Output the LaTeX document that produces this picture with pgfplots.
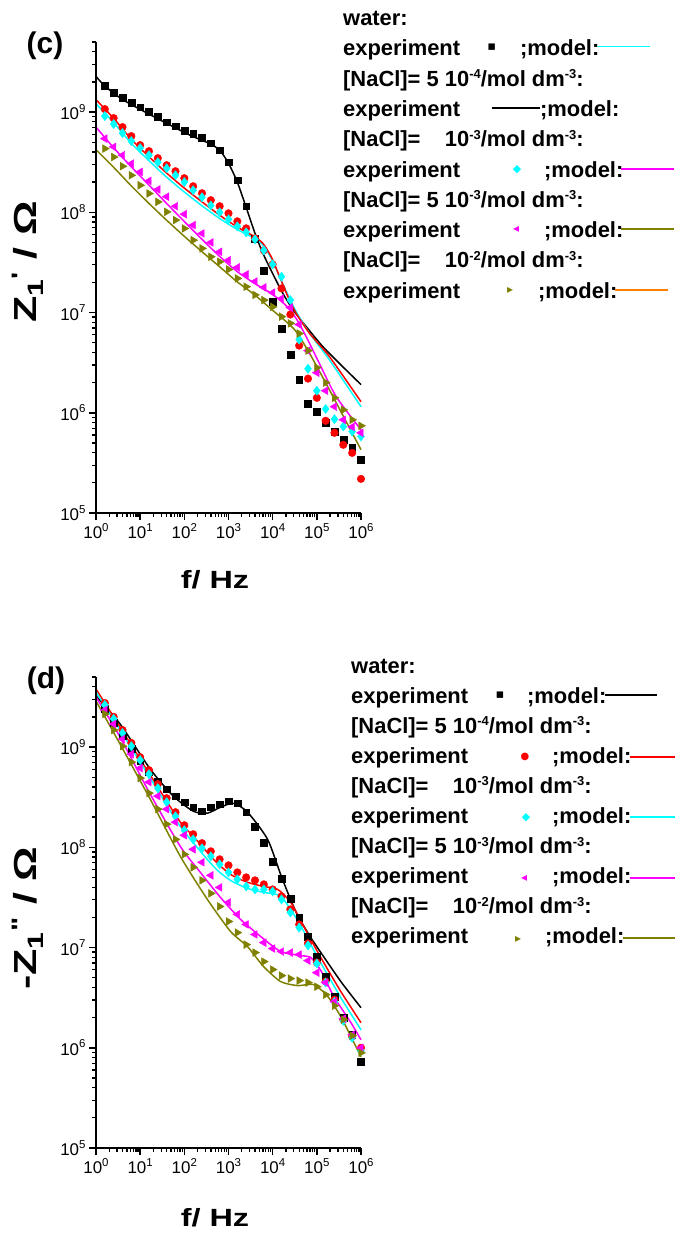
\documentclass[border=0pt]{standalone}
\usepackage{graphicx}
\usepackage{pgfplots}
\pgfplotsset{compat=1.18}
\usepackage{pgfplotstable}
\usepackage{fontspec}
\setmainfont{Liberation Sans}
\newfontfamily\symfont{DejaVu Sans}
\definecolor{ocyan}{RGB}{0,255,255}
\definecolor{omag}{RGB}{255,0,255}
\definecolor{oolive}{RGB}{128,128,0}
\definecolor{ored}{RGB}{255,0,0}
\definecolor{oorange}{RGB}{255,128,0}
\newcommand{\lf}{\fontsize{22}{26}\selectfont\bfseries}
\newcommand{\sps}[1]{\raisebox{7.5bp}{\fontsize{13}{13}\selectfont #1}}
\newcommand{\tlab}[1]{\fontsize{17}{20}\selectfont 10\raisebox{7.5bp}{\fontsize{11.5}{11.5}\selectfont #1}}

% experiment, panel (c): Z1'
\pgfplotstableread{
f cw cr cc cm co
1.585 1.82e9 1.07e9 9.12e8 5.43e8 4.32e8
2.512 1.55e9 8.71e8 7.59e8 4.49e8 3.56e8
3.981 1.38e9 7.08e8 6.17e8 3.71e8 2.88e8
6.310 1.23e9 5.75e8 5.13e8 3.06e8 2.34e8
10 1.12e9 4.68e8 4.37e8 2.53e8 1.86e8
15.85 1.00e9 4.07e8 3.72e8 2.06e8 1.54e8
25.12 8.91e8 3.47e8 3.16e8 1.69e8 1.27e8
39.81 7.94e8 2.95e8 2.75e8 1.43e8 1.01e8
63.10 7.24e8 2.57e8 2.34e8 1.15e8 8.36e7
100 6.46e8 2.19e8 2.00e8 9.57e7 6.90e7
158.5 6.03e8 1.82e8 1.66e8 7.45e7 5.27e7
251.2 5.50e8 1.55e8 1.41e8 6.15e7 4.36e7
398.1 4.90e8 1.32e8 1.17e8 5.00e7 3.60e7
631.0 4.17e8 1.15e8 1.00e8 4.04e7 3.21e7
1000 3.16e8 9.77e7 8.51e7 3.33e7 2.69e7
1585 2.09e8 8.13e7 7.24e7 2.82e7 2.19e7
2512 1.15e8 6.92e7 6.31e7 2.40e7 1.81e7
3981 5.50e7 5.50e7 5.37e7 2.04e7 1.50e7
6310 2.63e7 4.17e7 4.17e7 1.78e7 1.33e7
1e4 1.29e7 3.02e7 3.02e7 1.58e7 1.14e7
15850 6.92e6 1.74e7 2.28e7 1.38e7 9.10e6
25120 3.80e6 9.55e6 1.33e7 1.12e7 7.80e6
39810 2.14e6 4.68e6 5.37e6 7.59e6 6.17e6
63100 1.23e6 2.19e6 2.75e6 4.17e6 4.17e6
1e5 1.02e6 1.41e6 1.66e6 2.51e6 2.82e6
158500 7.94e5 8.32e5 1.09e6 1.66e6 2.00e6
251200 6.46e5 6.31e5 8.63e5 1.15e6 1.41e6
398100 5.37e5 4.79e5 7.30e5 8.51e5 1.07e6
631000 4.47e5 3.98e5 6.50e5 7.24e5 8.51e5
1e6 3.39e5 2.19e5 5.81e5 6.31e5 7.41e5
}\expC

% experiment, panel (d): -Z1''
\pgfplotstableread{
f dw dr dc dm do
1.585 2.40e9 2.75e9 2.63e9 2.34e9 2.14e9
2.512 1.74e9 2.00e9 1.91e9 1.70e9 1.48e9
3.981 1.29e9 1.48e9 1.38e9 1.20e9 1.02e9
6.310 9.55e8 1.10e9 1.02e9 8.51e8 7.08e8
10 7.24e8 7.94e8 7.41e8 6.17e8 4.90e8
15.85 5.62e8 5.89e8 5.37e8 4.47e8 3.47e8
25.12 4.57e8 4.27e8 3.89e8 3.24e8 2.40e8
39.81 3.80e8 3.09e8 2.82e8 2.40e8 1.70e8
63.10 3.24e8 2.24e8 2.04e8 1.78e8 1.20e8
100 2.82e8 1.66e8 1.48e8 1.32e8 8.51e7
158.5 2.51e8 1.35e8 1.20e8 9.55e7 6.31e7
251.2 2.29e8 1.10e8 9.77e7 7.08e7 4.68e7
398.1 2.51e8 9.12e7 8.13e7 5.25e7 3.47e7
631.0 2.69e8 7.59e7 6.76e7 3.98e7 2.57e7
1000 2.88e8 6.61e7 5.62e7 2.82e7 1.82e7
1585 2.75e8 5.62e7 4.79e7 2.14e7 1.41e7
2512 2.24e8 5.01e7 4.07e7 1.70e7 1.07e7
3981 1.62e8 4.68e7 3.80e7 1.35e7 8.91e6
6310 1.12e8 4.27e7 3.80e7 1.12e7 7.24e6
1e4 7.24e7 3.80e7 3.63e7 9.77e6 6.03e6
15850 4.90e7 3.24e7 3.02e7 9.12e6 5.25e6
25120 3.09e7 2.40e7 2.24e7 8.91e6 4.90e6
39810 2.00e7 1.70e7 1.58e7 8.51e6 4.68e6
63100 1.29e7 1.10e7 1.05e7 7.41e6 4.47e6
1e5 8.13e6 7.08e6 6.92e6 5.62e6 4.07e6
158500 5.13e6 4.57e6 4.47e6 4.47e6 3.39e6
251200 3.24e6 3.02e6 2.88e6 2.88e6 2.63e6
398100 2.00e6 1.91e6 1.86e6 1.95e6 1.91e6
631000 1.35e6 1.29e6 1.26e6 1.35e6 1.32e6
1e6 7.24e5 1.00e6 9.33e5 1.00e6 8.91e5
}\expD

\pgfplotsset{
  myaxis/.style={
    scale only axis, width=265bp, height=471bp,
    xmin=1, xmax=1e6, ymin=1e5, ymax=5e9,
    log basis x=10, log basis y=10,
    axis line style={draw=none},
    xtick pos=bottom, ytick pos=left,
    tick align=outside, major tick length=7bp, minor tick length=4bp,
    xtick={1,10,100,1000,1e4,1e5,1e6},
    ytick={1e5,1e6,1e7,1e8,1e9},
    minor xtick={2,3,4,5,6,7,8,9,20,30,40,50,60,70,80,90,200,300,400,500,600,700,800,900,2000,3000,4000,5000,6000,7000,8000,9000,2e4,3e4,4e4,5e4,6e4,7e4,8e4,9e4,2e5,3e5,4e5,5e5,6e5,7e5,8e5,9e5},
    minor ytick={2e5,3e5,4e5,5e5,6e5,7e5,8e5,9e5,2e6,3e6,4e6,5e6,6e6,7e6,8e6,9e6,2e7,3e7,4e7,5e7,6e7,7e7,8e7,9e7,2e8,3e8,4e8,5e8,6e8,7e8,8e8,9e8,2e9,3e9,4e9,5e9},
    major tick style={draw=black, line width=1.5bp},
    minor tick style={draw=black, line width=1.3bp},
    xticklabel={\tlab{\pgfmathprintnumber[fixed,precision=0,assume math mode=true]{\tick}}},
    yticklabel={\tlab{\pgfmathprintnumber[fixed,precision=0,assume math mode=true]{\tick}}},
    clip=false,
    after end axis/.code={
      \draw[black, line width=1.5bp] (rel axis cs:0,1) -- (rel axis cs:0,0) -- (rel axis cs:1,0);
    },
  },
}
\tikzset{
  mline/.style={line width=1.5bp, smooth, tension=0.4, mark=none},
  msq/.style={only marks, mark=square*, mark size=3.4bp, black},
  mci/.style={only marks, mark=*, mark size=3.8bp, ored},
  mdi/.style={only marks, mark=diamond*, mark size=4.6bp, ocyan},
  mtl/.style={only marks, mark=triangle*, mark size=4.5bp, omag, mark options={rotate=90}},
  mtr/.style={only marks, mark=triangle*, mark size=4.5bp, oolive, mark options={rotate=-90}},
}

\begin{document}
\begin{tikzpicture}
\useasboundingbox (0bp,0bp) rectangle (675bp,-1233bp);

% ---------------- panel (c) ----------------
\begin{axis}[xmode=log, ymode=log, myaxis, at={(96bp,-513bp)}, anchor=south west,
  xlabel={\scalebox{1.3}[1]{\fontsize{25}{30}\selectfont\bfseries f/ Hz}},
  xlabel style={at={(axis description cs:0.449,-0.142)}, anchor=center},
  ylabel={\scalebox{1.35}[1]{\fontsize{32}{36}\selectfont\bfseries Z\textsubscript{1}\textsuperscript{\textquotesingle} / Ω}},
  ylabel style={at={(axis description cs:-0.257,0.533)}, anchor=center},
]
\addplot[mline, black] coordinates {(1,2.27e9) (1.585,1.82e9) (4.14,1.32e9) (23.4,8.71e8) (133,5.89e8) (376,4.84e8) (631,4.17e8) (1000,3.09e8) (1585,2.00e8) (2512,1.12e8) (3981,6.17e7) (6026,3.89e7) (1e4,2.45e7) (17060,1.55e7) (28710,1.07e7) (57410,7.24e6) (136800,4.57e6) (386400,2.88e6) (1e6,1.91e6)};
\addplot[mline, ocyan] coordinates {(1,1.21e9) (2.55,7.78e8) (6.40,4.84e8) (16.0,3.26e8) (39.4,2.25e8) (98.9,1.60e8) (252,1.16e8) (632,8.67e7) (1560,6.75e7) (3908,5.48e7) (6026,4.71e7) (9290,3.47e7) (14350,2.28e7) (22130,1.50e7) (34120,1.02e7) (68230,6.21e6) (193200,3.37e6) (1e6,1.15e6)};
\addplot[mline, ored] coordinates {(1,1.33e9) (2.55,8.59e8) (6.40,5.31e8) (16.0,3.57e8) (39.4,2.47e8) (98.9,1.75e8) (252,1.27e8) (632,9.35e7) (1560,7.16e7) (3908,5.70e7) (6026,4.89e7) (9290,3.60e7) (14350,2.28e7) (22130,1.44e7) (34120,9.82e6) (68230,6.21e6) (193200,3.63e6) (1e6,1.29e6)};
\addplot[mline, omag] coordinates {(1,7.08e8) (2.55,4.37e8) (6.40,2.82e8) (16.0,1.86e8) (39.4,1.23e8) (98.9,8.13e7) (252,5.37e7) (632,3.63e7) (1560,2.57e7) (3908,1.95e7) (9290,1.55e7) (20280,1.17e7) (34120,8.71e6) (57410,5.75e6) (114800,3.09e6) (273500,1.45e6) (1e6,6.76e5)};
\addplot[mline, oolive] coordinates {(1,4.22e8) (2.55,2.79e8) (6.40,1.82e8) (16.0,1.22e8) (39.4,8.36e7) (98.9,5.78e7) (252,4.04e7) (632,2.86e7) (1560,2.03e7) (3908,1.50e7) (9795,1.06e7) (20280,8.11e6) (34120,6.44e6) (68230,3.93e6) (193200,1.69e6) (1e6,4.28e5)};
\addplot[msq] table[x=f, y=cw] {\expC};
\addplot[mci] table[x=f, y=cr] {\expC};
\addplot[mdi] table[x=f, y=cc] {\expC};
\addplot[mtl] table[x=f, y=cm] {\expC};
\addplot[mtr] table[x=f, y=co] {\expC};
\end{axis}

% ---------------- panel (d) ----------------
\begin{axis}[xmode=log, ymode=log, myaxis, at={(96bp,-1148bp)}, anchor=south west,
  xlabel={\scalebox{1.3}[1]{\fontsize{25}{30}\selectfont\bfseries f/ Hz}},
  xlabel style={at={(axis description cs:0.449,-0.149)}, anchor=center},
  ylabel={\scalebox{1.35}[1]{\fontsize{32}{36}\selectfont\bfseries -Z\textsubscript{1}\textsuperscript{\textquotedbl} / Ω}},
  ylabel style={at={(axis description cs:-0.257,0.488)}, anchor=center},
]
\addplot[mline, black] coordinates {(1,3.24e9) (3.51,1.70e9) (16.9,6.03e8) (56.2,3.24e8) (160,2.29e8) (333,2.19e8) (658,2.51e8) (1300,2.75e8) (2704,2.24e8) (7691,1.20e8) (16030,5.01e7) (33340,2.29e7) (65770,1.35e7) (123300,8.91e6) (350800,4.57e6) (1e6,2.51e6)};
\addplot[mline, ored] coordinates {(1,3.80e9) (3.51,1.58e9) (16.9,5.25e8) (81.1,1.78e8) (160,1.29e8) (456,7.59e7) (1109,5.37e7) (2704,4.47e7) (6237,4.07e7) (13000,3.80e7) (25640,2.82e7) (50700,1.62e7) (123300,7.94e6) (350800,3.63e6) (1e6,1.78e6)};
\addplot[mline, ocyan] coordinates {(1,3.55e9) (3.51,1.48e9) (16.9,4.90e8) (81.1,1.62e8) (456,6.46e7) (1109,4.68e7) (2704,3.89e7) (6237,3.55e7) (15210,3.24e7) (36980,1.86e7) (105400,7.94e6) (350800,3.16e6) (1e6,1.51e6)};
\addplot[mline, omag] coordinates {(1,3.16e9) (3.51,1.26e9) (16.9,3.39e8) (81.1,1.02e8) (231,5.62e7) (658,3.16e7) (1875,1.91e7) (5333,1.29e7) (15210,9.12e6) (43250,8.32e6) (73110,7.94e6) (123300,5.89e6) (243200,3.24e6) (592900,1.78e6) (1e6,1.20e6)};
\addplot[mline, oolive] coordinates {(1,2.88e9) (3.51,1.07e9) (16.9,3.02e8) (81.1,8.13e7) (333,3.02e7) (1109,1.45e7) (2704,1.02e7) (6237,6.46e6) (15210,4.57e6) (36980,4.17e6) (85510,4.27e6) (177800,3.24e6) (350800,2.04e6) (592900,1.29e6) (1e6,8.13e5)};
\addplot[msq] table[x=f, y=dw] {\expD};
\addplot[mci] table[x=f, y=dr] {\expD};
\addplot[mdi] table[x=f, y=dc] {\expD};
\addplot[mtl] table[x=f, y=dm] {\expD};
\addplot[mtr] table[x=f, y=do] {\expD};
\end{axis}

\begin{scope}[x=1bp, y=1bp, every node/.style={inner sep=0}]
% panel letters
\node at (45,-46) {\fontsize{30}{30}\selectfont\bfseries (c)};
\node at (46,-681) {\fontsize{30}{30}\selectfont\bfseries (d)};

% ---------------- legend (c) ----------------
\node[anchor=base west] at (343,-25.5) {\lf water:};
\node[anchor=base west] at (343,-55.8) {\lf experiment};
\node at (491.7,-47) {\symfont\fontsize{13}{13}\selectfont ▪};
\node[anchor=base west] at (520,-55.8) {\lf ;model:};
\node[anchor=west] at (597,-46.7) {\textcolor{ocyan}{\rule{53bp}{1.5bp}}};
\node[anchor=base west] at (343,-86.1) {\lf [NaCl]= 5 10\sps{-4}/mol dm\sps{-3}:};
\node[anchor=base west] at (343,-116.4) {\lf experiment};
\node[anchor=west] at (492,-108) {\textcolor{black}{\rule{48bp}{1.5bp}}};
\node[anchor=base west] at (540,-116.4) {\lf ;model:};
\node[anchor=base west] at (343,-146.7) {\lf [NaCl]= \phantom{5} 10\sps{-3}/mol dm\sps{-3}:};
\node[anchor=base west] at (343,-177) {\lf experiment};
\node at (517,-170) {\symfont\fontsize{11}{11}\selectfont\textcolor{ocyan}{◆}};
\node[anchor=base west] at (544,-177) {\lf ;model:};
\node[anchor=west] at (621,-169) {\textcolor{omag}{\rule{53bp}{1.5bp}}};
\node[anchor=base west] at (343,-207.3) {\lf [NaCl]= 5 10\sps{-3}/mol dm\sps{-3}:};
\node[anchor=base west] at (343,-237.6) {\lf experiment};
\node at (516,-229) {\symfont\fontsize{12}{12}\selectfont\textcolor{omag}{◂}};
\node[anchor=base west] at (544,-237.6) {\lf ;model:};
\node[anchor=west] at (621,-229) {\textcolor{oolive}{\rule{53bp}{1.5bp}}};
\node[anchor=base west] at (343,-267.9) {\lf [NaCl]= \phantom{5} 10\sps{-2}/mol dm\sps{-3}:};
\node[anchor=base west] at (343,-298.2) {\lf experiment};
\node at (510,-290) {\symfont\fontsize{12}{12}\selectfont\textcolor{oolive}{▸}};
\node[anchor=base west] at (538,-298.2) {\lf ;model:};
\node[anchor=west] at (615,-290) {\textcolor{oorange}{\rule{53bp}{1.5bp}}};

% ---------------- legend (d) ----------------
\node[anchor=base west] at (351,-673) {\lf water:};
\node[anchor=base west] at (351,-703.1) {\lf experiment};
\node at (500,-695) {\symfont\fontsize{13}{13}\selectfont ▪};
\node[anchor=base west] at (527,-703.1) {\lf ;model:};
\node[anchor=west] at (605,-695) {\textcolor{black}{\rule{52bp}{1.5bp}}};
\node[anchor=base west] at (351,-733.2) {\lf [NaCl]= 5 10\sps{-4}/mol dm\sps{-3}:};
\node[anchor=base west] at (351,-763.3) {\lf experiment};
\node at (525,-757) {\symfont\fontsize{10}{10}\selectfont\textcolor{ored}{●}};
\node[anchor=base west] at (552,-763.3) {\lf ;model:};
\node[anchor=west] at (630,-757) {\textcolor{ored}{\rule{45bp}{1.5bp}}};
\node[anchor=base west] at (351,-793.4) {\lf [NaCl]= \phantom{5} 10\sps{-3}/mol dm\sps{-3}:};
\node[anchor=base west] at (351,-823.5) {\lf experiment};
\node at (526,-818) {\symfont\fontsize{11}{11}\selectfont\textcolor{ocyan}{◆}};
\node[anchor=base west] at (552,-823.5) {\lf ;model:};
\node[anchor=west] at (630,-817) {\textcolor{ocyan}{\rule{45bp}{1.5bp}}};
\node[anchor=base west] at (351,-853.6) {\lf [NaCl]= 5 10\sps{-3}/mol dm\sps{-3}:};
\node[anchor=base west] at (351,-883.7) {\lf experiment};
\node at (524,-878) {\symfont\fontsize{12}{12}\selectfont\textcolor{omag}{◂}};
\node[anchor=base west] at (552,-883.7) {\lf ;model:};
\node[anchor=west] at (630,-878) {\textcolor{omag}{\rule{45bp}{1.5bp}}};
\node[anchor=base west] at (351,-913.8) {\lf [NaCl]= \phantom{5} 10\sps{-2}/mol dm\sps{-3}:};
\node[anchor=base west] at (351,-943.9) {\lf experiment};
\node at (518,-939) {\symfont\fontsize{12}{12}\selectfont\textcolor{oolive}{▸}};
\node[anchor=base west] at (545,-943.9) {\lf ;model:};
\node[anchor=west] at (623,-938) {\textcolor{oolive}{\rule{52bp}{1.5bp}}};
\end{scope}
\end{tikzpicture}
\end{document}
